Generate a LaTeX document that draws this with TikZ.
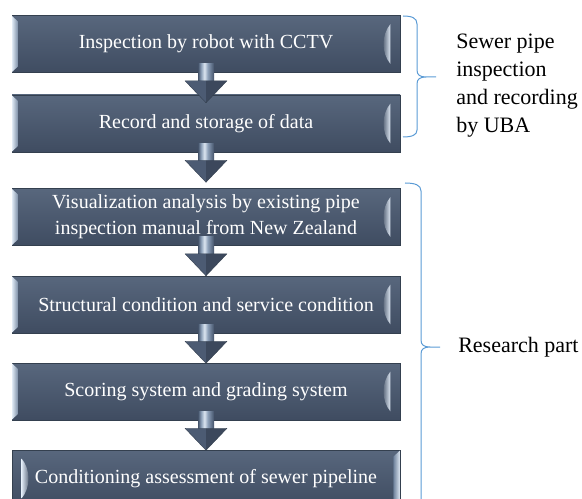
\documentclass[tikz,border=0pt]{standalone}
\usepackage{fontspec}
\setmainfont{Liberation Serif}
\usetikzlibrary{calc}
\definecolor{boxtop}{HTML}{58677D}
\definecolor{boxbot}{HTML}{3F4C61}
\definecolor{boxline}{HTML}{34404F}
\definecolor{bevlight}{HTML}{DCE6F1}
\definecolor{bevdark}{HTML}{6E819B}
\definecolor{bracecol}{HTML}{5B9BD5}
\definecolor{arrowdark}{HTML}{44536A}
\definecolor{arrowmid}{HTML}{8FA2BB}
\definecolor{headleft}{HTML}{4C5B73}
\definecolor{headright}{HTML}{3C485C}
\pgfdeclarehorizontalshading{shaftshade}{100bp}{color(0bp)=(arrowdark); color(25bp)=(arrowdark); color(35bp)=(arrowmid); color(45bp)=(bevlight); color(55bp)=(arrowmid); color(75bp)=(arrowdark); color(100bp)=(arrowdark)}
\newcommand\bevelstd[1]{%
  \path[left color=bevlight, right color=bevdark]
    ($(#1.north west)+(0.5,1)$) -- ($(#1.north west)+(7,7)$) -- ($(#1.south west)+(7,-7)$) -- ($(#1.south west)+(0.5,-1)$) -- cycle;
  \path[left color=boxbot, right color=bevlight]
    ($(#1.north east)+(-10,9)$) .. controls ($(#1.north east)+(-19,20)$) and ($(#1.south east)+(-19,-20)$) .. ($(#1.south east)+(-10,-9)$) -- cycle;
}
\newcommand\bevelmir[1]{%
  \path[left color=bevdark, right color=bevlight]
    ($(#1.north east)+(-0.5,1)$) -- ($(#1.north east)+(-7,7)$) -- ($(#1.south east)+(-7,-7)$) -- ($(#1.south east)+(-0.5,-1)$) -- cycle;
  \path[left color=bevlight, right color=boxbot]
    ($(#1.north west)+(10,9)$) .. controls ($(#1.north west)+(19,20)$) and ($(#1.south west)+(19,-20)$) .. ($(#1.south west)+(10,-9)$) -- cycle;
}
\newcommand\flowarrow[2]{%
  \path[shading=shaftshade] ($(#1.south)+(-8,-9)$) rectangle ($(#1.south)+(8,9)$);
  \fill[headleft] ($(#1.south)+(-21,8)$) -- ($(#1.south)+(0,8)$) -- ($(#1.south)+(0,30)$) -- cycle;
  \fill[headright] ($(#1.south)+(0,8)$) -- ($(#1.south)+(21,8)$) -- ($(#1.south)+(0,30)$) -- cycle;
  \draw[boxline, line width=0.3pt, line join=round] ($(#1.south)+(-21,8)$) -- ($(#1.south)+(21,8)$) -- ($(#1.south)+(0,30)$) -- cycle;
}
\begin{document}
\begin{tikzpicture}[x=0.75pt,y=-0.75pt,
  flowbox/.style={rectangle, minimum width=291pt, minimum height=42.75pt, inner sep=0pt,
    top color=boxtop, bottom color=boxbot, draw=boxline, line width=0.4pt,
    text=white, font=\fontsize{15}{19.5}\selectfont, align=center},
  sidelabel/.style={anchor=west, inner sep=0pt, align=left, font=\fontsize{16.5}{21}\selectfont},
  bracestyle/.style={draw=bracecol, line width=0.75pt},
]
\useasboundingbox (0,0) rectangle (582,499);
\clip (0,0) rectangle (582,499);

\node[flowbox] (b1) at (206,44) {Inspection by robot with CCTV};
\node[flowbox] (b2) at (206,123.5) {Record and storage of data};
\node[flowbox] (b3) at (206,217) {Visualization analysis by existing pipe\\inspection manual from New Zealand};
\node[flowbox] (b4) at (206,304.5) {Structural condition and service condition};
\node[flowbox] (b5) at (206,391.5) {Scoring system and grading system};
\node[flowbox] (b6) at (206,478.5) {Conditioning assessment of sewer pipeline};

\bevelstd{b1}
\bevelstd{b2}
\bevelstd{b3}
\bevelstd{b4}
\bevelstd{b5}
\bevelmir{b6}

\flowarrow{b1}{b2}
\flowarrow{b2}{b3}
\flowarrow{b3}{b4}
\flowarrow{b4}{b5}
\flowarrow{b5}{b6}

\draw[bracestyle] (403,16) .. controls (412,16) and (417,18) .. (417,24) -- (417,70)
  .. controls (417,75) and (420,77) .. (426,77) -- (436,77)
  (426,77) .. controls (420,77) and (417,79) .. (417,84) -- (417,130)
  .. controls (417,135) and (412,137) .. (403,137);
\draw[bracestyle] (405,183) .. controls (415,183) and (421,185) .. (421,191) -- (421,340)
  .. controls (421,345) and (424,347) .. (430,347) -- (440,347)
  (430,347) .. controls (424,347) and (421,349) .. (421,354) -- (421,515);

\node[sidelabel] (lab1) at (456,86) {Sewer pipe\\inspection\\and recording\\by UBA};
\node[sidelabel] (lab2) at (458,347) {Research part};
\end{tikzpicture}
\end{document}
